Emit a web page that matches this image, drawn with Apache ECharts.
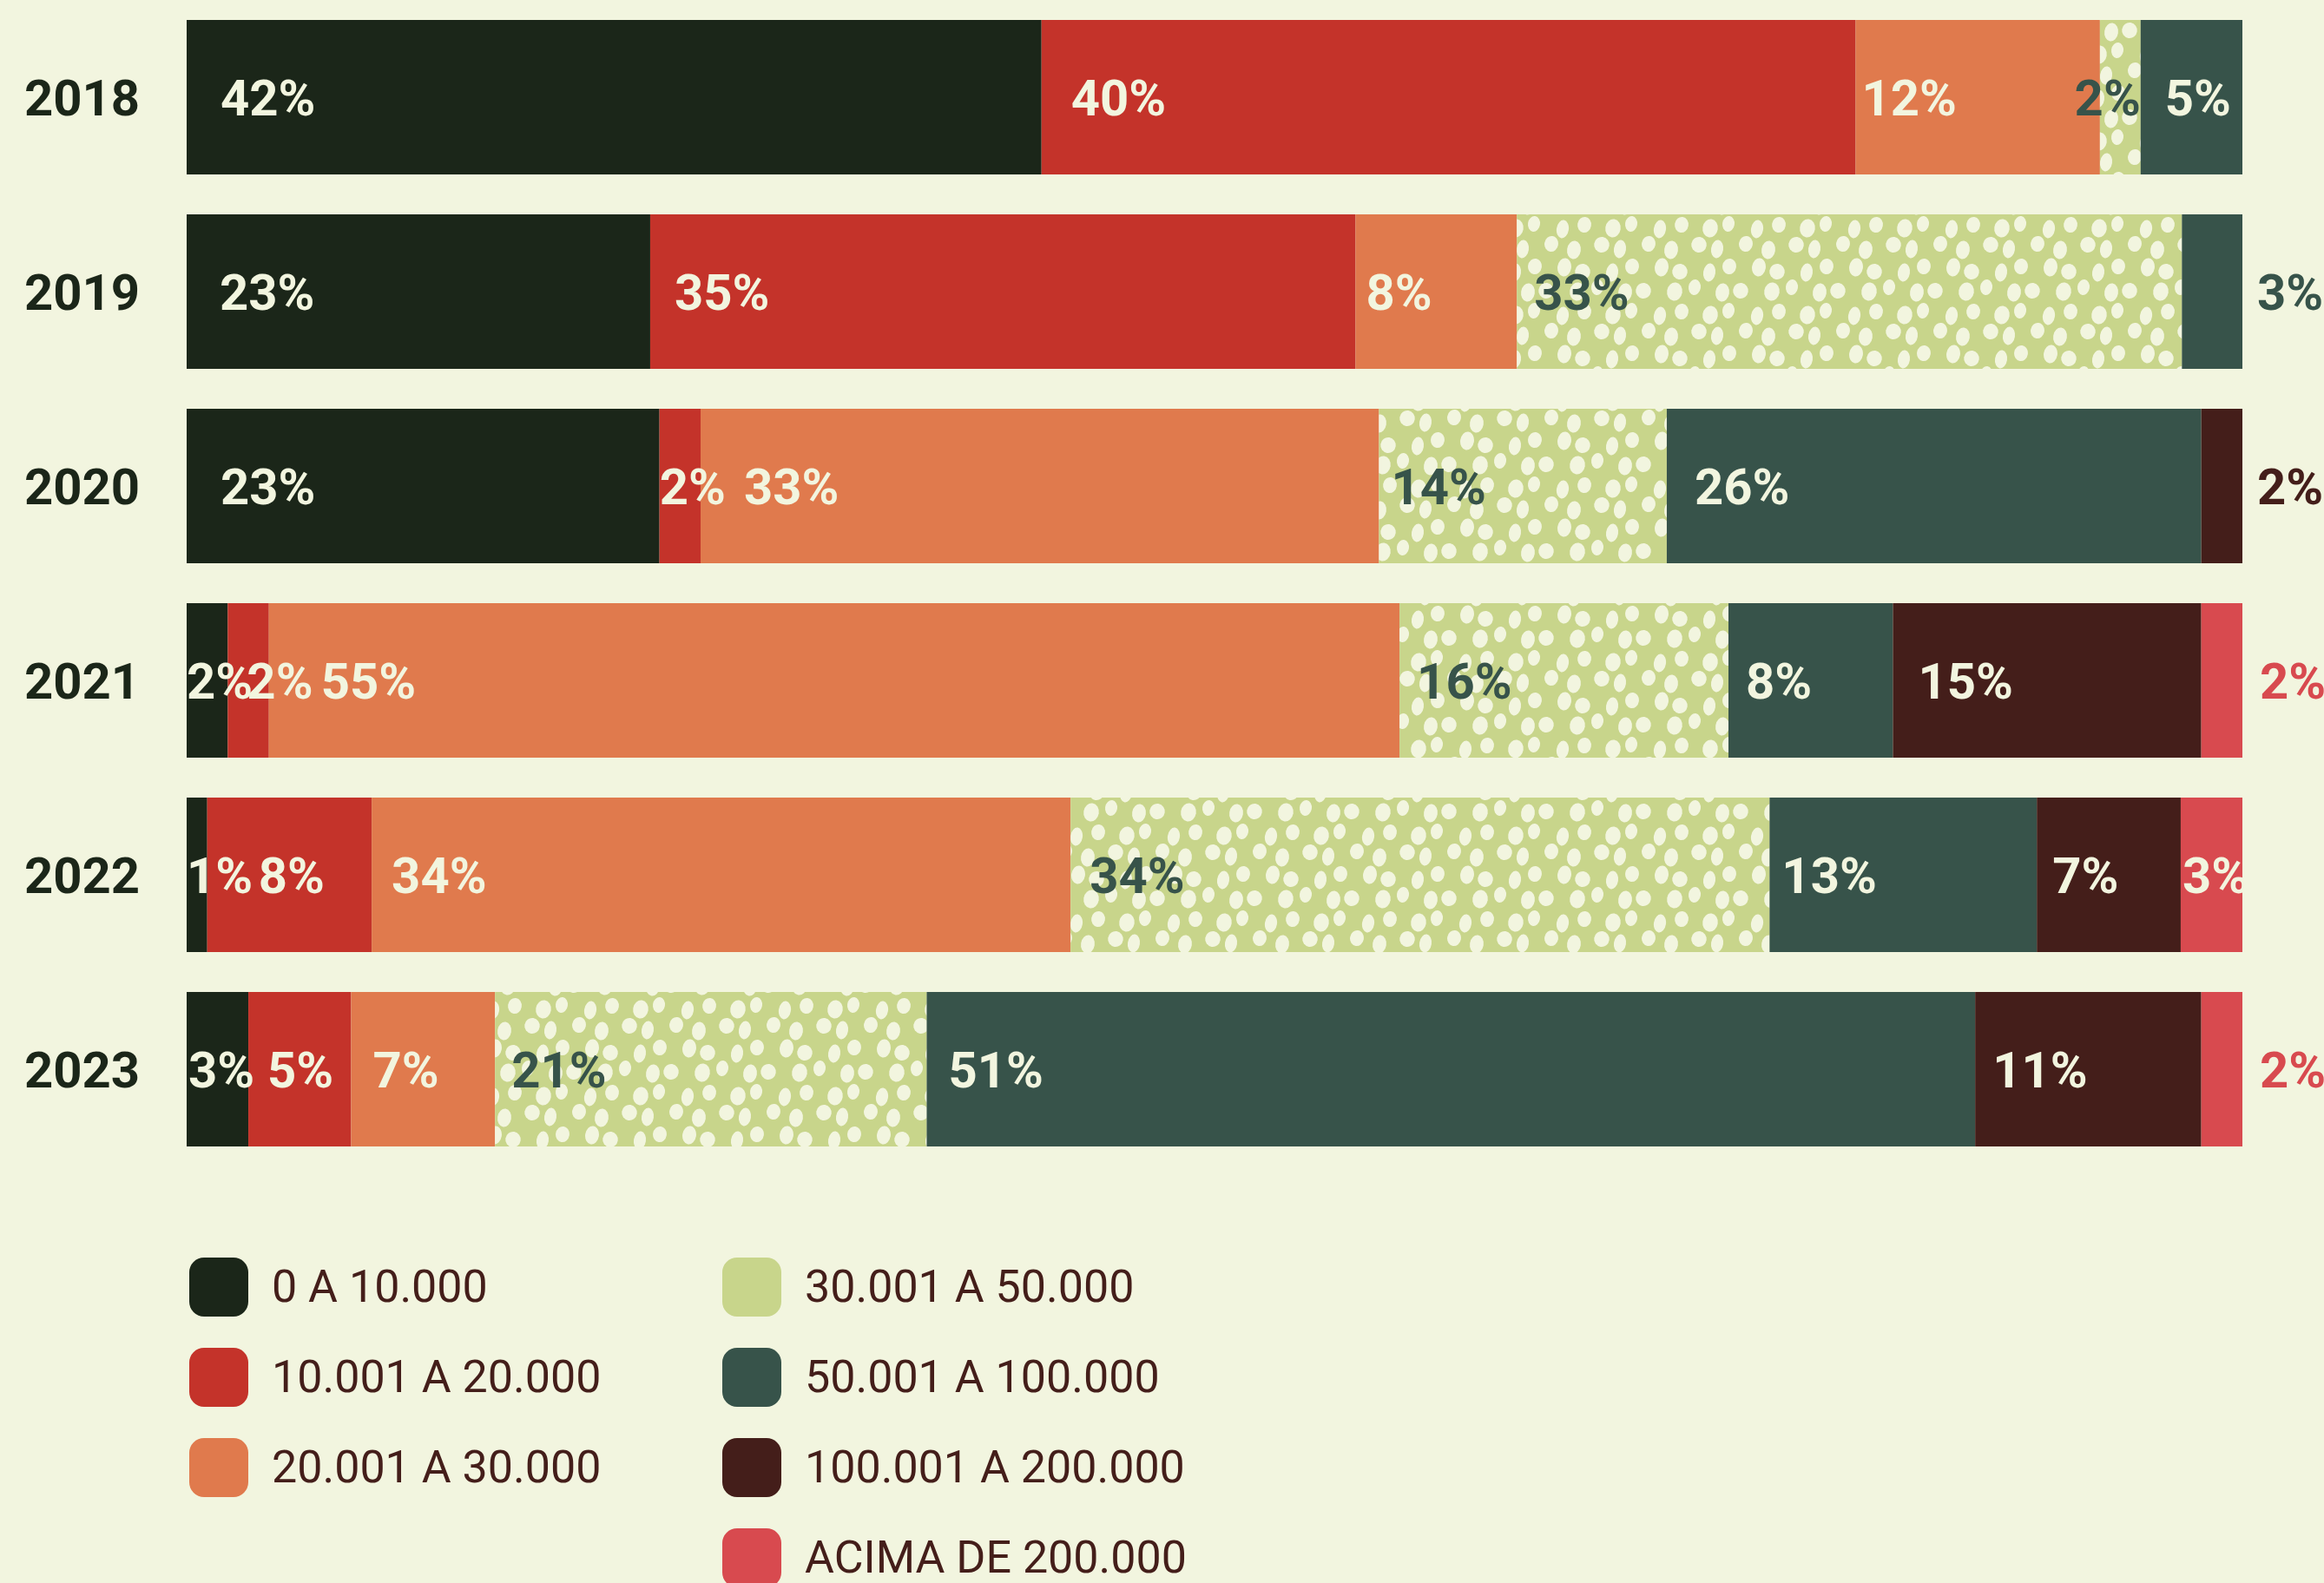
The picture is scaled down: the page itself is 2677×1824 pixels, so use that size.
<!DOCTYPE html>
<html lang="pt">
<head>
<meta charset="UTF-8">
<title>Faixas</title>
<script src="https://cdn.jsdelivr.net/npm/echarts@6/dist/echarts.min.js"></script>
<style>
  html, body { margin: 0; padding: 0; background: #f2f5df; }
  #chart { width: 2677px; height: 1824px; }
</style>
</head>
<body>
<div id="chart"></div>
<script>
// dados (percentagens impressas em cada barra)
var years = ['2018', '2019', '2020', '2021', '2022', '2023'];
var bands = ['0 A 10.000', '10.001 A 20.000', '20.001 A 30.000', '30.001 A 50.000',
             '50.001 A 100.000', '100.001 A 200.000', 'ACIMA DE 200.000'];
var band0 = [42, 23, 23, 2, 1, 3];
var band1 = [40, 35, 2, 2, 8, 5];
var band2 = [12, 8, 33, 55, 34, 7];
var band3 = [2, 33, 14, 16, 34, 21];
var band4 = [5, 3, 26, 8, 13, 51];
var band5 = [null, null, 2, 15, 7, 11];
var band6 = [null, null, null, 2, 3, 2];
var shares = [band0, band1, band2, band3, band4, band5, band6];

var colors = ['#1b2619', '#c4332a', '#e07a4d', '#c8d58b', '#37534a', '#441e1a', '#d84a4f'];
var cream = '#f2f5df';

// ajustes de posicao dos rotulos (ano:faixa)
var tweaks = {
  '0:0': {distance: 39}, '1:0': {distance: 38}, '2:0': {distance: 39},
  '3:0': {distance: 0}, '4:0': {distance: 0}, '5:0': {distance: 2},
  '0:1': {distance: 34}, '0:2': {distance: 7}, '0:3': {position: 'insideRight', distance: 0}, '0:4': {distance: 28},
  '1:1': {distance: 28}, '1:2': {distance: 12}, '1:3': {distance: 20}, '1:4': {position: 'right', distance: 17, color: colors[4]},
  '2:1': {distance: 0}, '2:2': {distance: 50}, '2:3': {distance: 14}, '2:4': {distance: 32}, '2:5': {position: 'right', distance: 17, color: colors[5]},
  '3:1': {distance: 22}, '3:2': {distance: 60}, '3:3': {distance: 20}, '3:4': {distance: 20}, '3:5': {distance: 29}, '3:6': {position: 'right', distance: 20, color: colors[6]},
  '4:1': {distance: 59}, '4:2': {distance: 23}, '4:3': {distance: 22}, '4:4': {distance: 14}, '4:5': {distance: 18}, '4:6': {distance: 2},
  '5:1': {distance: 22}, '5:2': {distance: 25}, '5:3': {distance: 19}, '5:4': {distance: 25}, '5:5': {distance: 20}, '5:6': {position: 'right', distance: 20, color: colors[6]}
};

// textura de bolinhas para a faixa 30.001 A 50.000
function dotTile() {
  var w = 112, h = 100;
  var c = document.createElement('canvas');
  c.width = w; c.height = h;
  var g = c.getContext('2d');
  g.fillStyle = colors[3];
  g.fillRect(0, 0, w, h);
  g.fillStyle = cream;
  var jit = [[3, -2], [-4, 3], [2, 4], [-3, -3], [4, 1], [-1, -4], [3, 2], [-4, 0],
             [1, 4], [-2, -1], [3, 3], [-4, -2], [0, 3], [4, -3], [-3, 2], [2, -4]];
  var k = 0;
  for (var r = 0; r < 4; r++) {
    for (var q = 0; q < 4; q++) {
      var j = jit[k++];
      var cx = q * 28 + (r % 2 ? 14 : 0) + 7 + j[0];
      var cy = r * 25 + 10 + j[1];
      var rx = 7 + (k % 3) * 0.9, ry = 9 + (k % 2) * 1.5;
      for (var ox = -w; ox <= w; ox += w) {
        for (var oy = -h; oy <= h; oy += h) {
          g.beginPath();
          g.ellipse(cx + ox, cy + oy, rx, ry, 0.15, 0, Math.PI * 2);
          g.fill();
        }
      }
    }
  }
  return c;
}

var totals = years.map(function (y, yi) {
  return shares.reduce(function (s, arr) { return s + (arr[yi] || 0); }, 0);
});

var chart = echarts.init(document.getElementById('chart'));
var tile = dotTile();

var series = bands.map(function (name, si) {
  return {
    name: name,
    type: 'bar',
    stack: 'total',
    barWidth: 178,
    itemStyle: { color: si === 3 ? { image: tile, repeat: 'repeat' } : colors[si] },
    label: {
      show: true,
      position: 'insideLeft',
      distance: 22,
      offset: [0, 6],
      color: si === 3 ? colors[4] : cream,
      fontFamily: 'Roboto',
      fontWeight: 'bold',
      fontSize: 58,
      formatter: function (p) { return shares[si][p.dataIndex] + '%'; }
    },
    data: years.map(function (y, yi) {
      var v = shares[si][yi];
      if (v == null) return '-';
      var item = { value: v / totals[yi] * 100 };
      var t = tweaks[yi + ':' + si];
      if (t) item.label = t;
      return item;
    })
  };
});

function legendBlock(list, left) {
  return {
    orient: 'vertical',
    left: left,
    top: 1449,
    height: 440,
    padding: 0,
    icon: 'roundRect',
    itemWidth: 68,
    itemHeight: 68,
    itemGap: 36,
    selectedMode: false,
    formatter: function (n) { return '{t|' + n + '}'; },
    textStyle: {
      rich: { t: { fontFamily: 'Roboto', fontSize: 52, color: '#441e1a', padding: [8, 0, 0, 22] } }
    },
    data: list.map(function (n) {
      return { name: n, itemStyle: { color: colors[bands.indexOf(n)] } };
    })
  };
}

chart.setOption({
  backgroundColor: cream,
  animation: false,
  grid: { left: 215, right: 94, top: 0, height: 1344 },
  xAxis: { type: 'value', min: 0, max: 100, show: false },
  yAxis: {
    type: 'category',
    data: years,
    inverse: true,
    axisLine: { show: false },
    axisTick: { show: false },
    axisLabel: {
      align: 'left', margin: 187,
      formatter: function (v) { return '{y|' + v + '}'; },
      rich: { y: { fontFamily: 'Roboto', fontWeight: 'bold', fontSize: 58, color: '#1b2619', padding: [12, 0, 0, 0] } }
    }
  },
  legend: [legendBlock(bands.slice(0, 3), 218), legendBlock(bands.slice(3), 832)],
  series: series
});
</script>
</body>
</html>
